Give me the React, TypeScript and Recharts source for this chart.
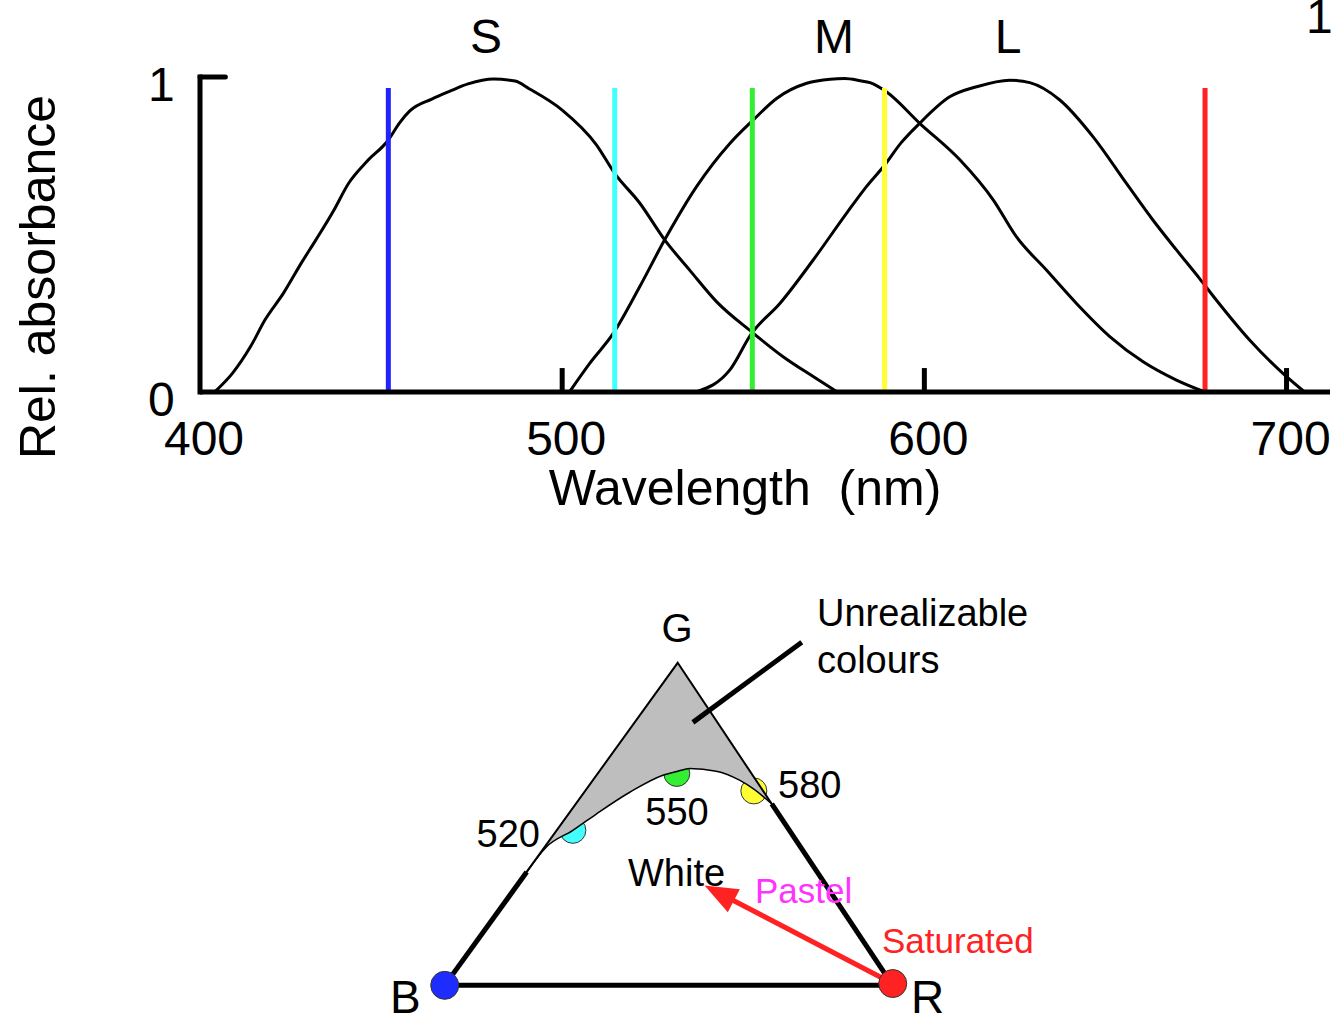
import React from "react";
import { Area, ComposedChart, Line, LineChart, Scatter, XAxis, YAxis } from "recharts";

const FONT = '"Liberation Sans", Arial, Helvetica, sans-serif';

// relative absorbance of the three cone types, [wavelength nm, value]
const S_CONE: [number, number][] = [
  [404, 0], [409, 0.06], [414, 0.145], [418, 0.23], [423, 0.313], [428, 0.41],
  [432, 0.483], [437, 0.578], [441, 0.662], [446, 0.731], [452, 0.8], [455, 0.853],
  [458, 0.893], [464, 0.93], [469, 0.955], [474, 0.978], [481, 0.994], [487, 0.987],
  [491, 0.962], [500, 0.895], [509.5, 0.784], [514.5, 0.694], [521.4, 0.6],
  [528.3, 0.483], [535.2, 0.387], [542.6, 0.287], [552.3, 0.191], [561, 0.112],
  [569.3, 0.049], [576, 0],
];
const M_CONE: [number, number][] = [
  [502, 0], [507.6, 0.091], [514.1, 0.186], [521.4, 0.334], [528.3, 0.483],
  [537.1, 0.652], [546.3, 0.789], [552.7, 0.863], [559.2, 0.932], [567.5, 0.98],
  [574, 0.993], [578, 0.995], [582.3, 0.988], [585, 0.982], [589.5, 0.953],
  [598.7, 0.853], [609.8, 0.737], [619, 0.61], [625.4, 0.493], [633.7, 0.387],
  [642, 0.281], [651.2, 0.176], [660.4, 0.096], [669.6, 0.038], [677.5, 0],
];
const L_CONE: [number, number][] = [
  [537, 0], [546.3, 0.07], [552.3, 0.186], [560.1, 0.281], [569.3, 0.419],
  [578.5, 0.567], [584, 0.652], [589, 0.72], [593.5, 0.79], [598.7, 0.853],
  [607, 0.937], [614.4, 0.969], [623.6, 0.99], [629.1, 0.982], [637.4, 0.927],
  [646.6, 0.81], [655.8, 0.662], [663.1, 0.546], [669.6, 0.451], [676, 0.36],
  [680.6, 0.292], [689.8, 0.165], [699, 0.059], [705, 0],
];

// the coloured stimulus lines
const STIMULUS_NM = [452, 514.5, 552.5, 589, 677.5];
const STIMULUS_COLORS = ["#2222ff", "#44ffff", "#33ee33", "#ffff33", "#ff2222"];
const STIMULUS_TOP = 0.965;

const X_TICKS = [400, 500, 600, 700];
const Y_TICKS = [0, 1];
const INNER_TICKS = [500, 600, 700];

// colour triangle, in triangle units (B at 0,0 and R at 100,0)
const TRIANGLE: [number, number][] = [[0, 0], [52, 72], [100, 0], [0, 0]];
const EDGE_B: [number, number][] = [[0, 0], [18.3, 25.3]];
const EDGE_R: [number, number][] = [[73, 40.5], [100, 0]];
const EDGE_BASE: [number, number][] = [[0, 0], [100, 0]];
// unrealizable region: [x, spectral locus, triangle edge]
const GAMUT_LEFT: [number, number, number][] = [
  [18.3, 25.3, 25.3], [22.7, 30.9, 31.4], [28.6, 34.6, 39.6], [33.9, 38.3, 46.9],
  [41.3, 43.1, 57.2], [48.7, 46.9, 67.4], [52, 47.8, 72],
];
const GAMUT_RIGHT: [number, number, number][] = [
  [52, 47.8, 72], [54.7, 48.4, 68], [60.6, 47.8, 59.1], [65.8, 45.8, 51.3],
  [69, 43.8, 46.5], [73, 40.5, 40.5],
];
const LOCUS_POINTS = [
  { x: 28.6, y: 34.6, color: "#44ffff" },
  { x: 51.8, y: 47.3, color: "#33ee33" },
  { x: 69, y: 43.4, color: "#ffff33" },
];
const CORNERS = [
  { x: 0, y: 0, color: "#1f2cff" },
  { x: 100, y: 0.4, color: "#ff2222" },
];
const POINTER: [number, number][] = [[55.4, 58.7], [79.7, 76.6]];
const ARROW: [number, number][] = [[100, 0.4], [58, 22.3]];

const wl = (pts: [number, number][]) => pts.map(([nm, v]) => ({ nm, v }));
const xy = (pts: [number, number][]) => pts.map(([x, y]) => ({ x, y }));
const band = (rows: [number, number, number][]) => rows.map(([x, lo, hi]) => ({ x, band: [lo, hi] }));

const XTick = ({ x, y, payload }: any) => (
  <text x={x + 4} y={y + 63} textAnchor="middle" fontSize={48} fontFamily={FONT} fill="#000">
    {payload.value}
  </text>
);

const YTick = ({ x, y, payload }: any) => (
  <text x={x - 52} y={y + 24} textAnchor="start" fontSize={48} fontFamily={FONT} fill="#000">
    {payload.value}
  </text>
);

function Spectra() {
  return (
    <LineChart width={1334} height={520} margin={{ top: 77, right: 4, bottom: 68, left: 140 }}>
      <XAxis
        type="number"
        dataKey="nm"
        domain={[400, 712]}
        ticks={X_TICKS}
        height={60}
        tickSize={0}
        tickMargin={0}
        tickLine={false}
        axisLine={{ stroke: "#000", strokeWidth: 5 }}
        tick={<XTick />}
      />
      <YAxis
        type="number"
        dataKey="v"
        domain={[0, 1]}
        ticks={Y_TICKS}
        width={60}
        tickSize={0}
        tickMargin={0}
        tickLine={false}
        axisLine={{ stroke: "#000", strokeWidth: 5, strokeLinecap: "square" }}
        tick={<YTick />}
      />
      {[S_CONE, M_CONE, L_CONE].map((c, i) => (
        <Line key={i} data={wl(c)} dataKey="v" type="monotone" stroke="#000" strokeWidth={3} dot={false} isAnimationActive={false} />
      ))}
      {INNER_TICKS.map((t) => (
        <Line key={t} data={wl([[t, 0], [t, 0.076]])} dataKey="v" stroke="#000" strokeWidth={5} dot={false} isAnimationActive={false} />
      ))}
      <Line data={wl([[400, 1], [407, 1]])} dataKey="v" stroke="#000" strokeWidth={5} strokeLinecap="round" dot={false} isAnimationActive={false} />
      {STIMULUS_NM.map((nm, i) => (
        <Line
          key={nm}
          data={wl([[nm, 0], [nm, STIMULUS_TOP]])}
          dataKey="v"
          stroke={STIMULUS_COLORS[i]}
          strokeWidth={5}
          dot={false}
          isAnimationActive={false}
        />
      ))}
    </LineChart>
  );
}

const LocusDot = (p: any) => (
  <circle cx={p.cx} cy={p.cy} r={13} fill={p.payload.color} stroke="#333" strokeWidth={1} />
);
const CornerDot = (p: any) => (
  <circle cx={p.cx} cy={p.cy} r={14} fill={p.payload.color} stroke="#333" strokeWidth={1} />
);

// arrow head drawn at the tip, pointing along the arrow
const [tail, tip] = ARROW;
const ARROW_ANGLE = (Math.atan2(-(tip[1] - tail[1]), tip[0] - tail[0]) * 180) / Math.PI;
const ArrowHead = (p: any) => (
  <polygon
    points="0,0 -33,-13 -33,13"
    fill="#ff2222"
    transform={`translate(${p.cx},${p.cy}) rotate(${ARROW_ANGLE})`}
  />
);
const SHAFT_END: [number, number] = [
  tip[0] + (tail[0] - tip[0]) * 0.12,
  tip[1] + (tail[1] - tip[1]) * 0.12,
];

const TRI_W = 672;
const TRI_H = 403.2;
const GRAY = "#bebebe";
const triAxes = [
  <XAxis key="x" type="number" dataKey="x" domain={[-14, 136]} hide allowDataOverflow />,
  <YAxis key="y" type="number" dataKey="y" domain={[-8, 82]} hide allowDataOverflow />,
];
const noMargin = { top: 0, right: 0, bottom: 0, left: 0 };

// sits underneath the grey region so the dots are half covered
function LocusLayer() {
  return (
    <ComposedChart width={TRI_W} height={TRI_H} margin={noMargin}>
      {triAxes}
      <Scatter data={LOCUS_POINTS} dataKey="y" shape={LocusDot} isAnimationActive={false} />
    </ComposedChart>
  );
}

function ColourTriangle() {
  const seam = GAMUT_RIGHT[0];
  return (
    <ComposedChart width={TRI_W} height={TRI_H} margin={noMargin}>
      {triAxes}
      <Area data={band(GAMUT_LEFT)} dataKey="band" type="monotone" fill={GRAY} fillOpacity={1} stroke="none" isAnimationActive={false} />
      <Area data={band(GAMUT_RIGHT)} dataKey="band" type="monotone" fill={GRAY} fillOpacity={1} stroke="none" isAnimationActive={false} />
      <Line data={xy([[seam[0], seam[1]], [seam[0], seam[2]]])} dataKey="y" type="linear" stroke={GRAY} strokeWidth={2} dot={false} isAnimationActive={false} />
      <Line data={GAMUT_LEFT.concat(GAMUT_RIGHT.slice(1)).map(([x, lo]) => ({ x, y: lo }))} dataKey="y" type="monotone" stroke="#000" strokeWidth={1.5} dot={false} isAnimationActive={false} />
      <Line data={xy(TRIANGLE)} dataKey="y" type="linear" stroke="#000" strokeWidth={2} dot={false} isAnimationActive={false} />
      {[EDGE_B, EDGE_R, EDGE_BASE].map((e, i) => (
        <Line key={i} data={xy(e)} dataKey="y" type="linear" stroke="#000" strokeWidth={5} dot={false} isAnimationActive={false} />
      ))}
      <Line data={xy(POINTER)} dataKey="y" type="linear" stroke="#000" strokeWidth={5} dot={false} isAnimationActive={false} />
      <Line data={xy([tail, SHAFT_END])} dataKey="y" type="linear" stroke="#ff2222" strokeWidth={5} dot={false} isAnimationActive={false} />
      <Scatter data={xy([tip])} dataKey="y" shape={ArrowHead} isAnimationActive={false} />
      <Scatter data={CORNERS} dataKey="y" shape={CornerDot} isAnimationActive={false} />
    </ComposedChart>
  );
}

const T = ({ x, y, size = 48, anchor = "start", color = "#000", children }: any) => (
  <text x={x} y={y} fontSize={size} textAnchor={anchor} fill={color} fontFamily={FONT} style={{ whiteSpace: "pre" }}>
    {children}
  </text>
);

export default function App() {
  return (
    <div style={{ position: "absolute", left: 0, top: 0, width: 1334, height: 1028, overflow: "hidden", background: "#fff" }}>
      <div style={{ position: "absolute", left: 0, top: 0 }}>
        <Spectra />
      </div>
      <div style={{ position: "absolute", left: 382.28, top: 617.64 }}>
        <LocusLayer />
      </div>
      <div style={{ position: "absolute", left: 382.28, top: 617.64 }}>
        <ColourTriangle />
      </div>
      <svg width={1334} height={1028} style={{ position: "absolute", left: 0, top: 0, pointerEvents: "none" }}>
        <T x={486} y={53} anchor="middle">S</T>
        <T x={834} y={53} anchor="middle">M</T>
        <T x={1008} y={53} anchor="middle">L</T>
        <T x={1306} y={33}>1</T>
        <T x={745} y={505} size={50} anchor="middle">{"Wavelength  (nm)"}</T>
        <text
          transform="translate(55,277) rotate(-90)"
          fontSize={50}
          textAnchor="middle"
          fontFamily={FONT}
          fill="#000"
        >
          Rel. absorbance
        </text>
        <T x={677} y={642} size={40} anchor="middle">G</T>
        <T x={817} y={626} size={38}>Unrealizable</T>
        <T x={817} y={673} size={38}>colours</T>
        <T x={540} y={847} size={38} anchor="end">520</T>
        <T x={677} y={825} size={38} anchor="middle">550</T>
        <T x={778} y={798} size={38}>580</T>
        <T x={628} y={886} size={38}>White</T>
        <T x={755} y={903} size={35} color="#ff33ff">Pastel</T>
        <T x={882} y={953} size={35} color="#ff2222">Saturated</T>
        <T x={390} y={1013} size={46}>B</T>
        <T x={911} y={1013} size={46}>R</T>
      </svg>
    </div>
  );
}
